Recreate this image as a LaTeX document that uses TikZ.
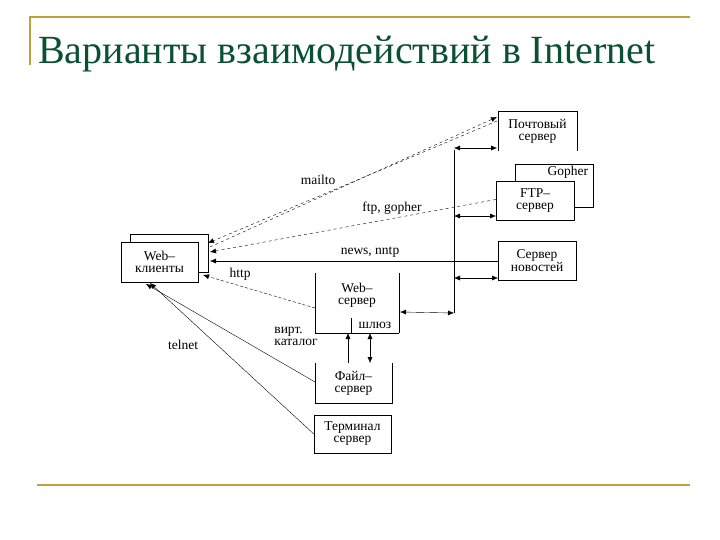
\documentclass[tikz,border=0pt]{standalone}
\usepackage{fontspec}
\setmainfont{Liberation Serif}
\usetikzlibrary{arrows.meta}
\definecolor{olive}{RGB}{190,160,60}
\definecolor{titlegreen}{RGB}{10,80,50}
\tikzset{
  box/.style={minimum width=78pt, minimum height=39pt, inner sep=0pt, align=center, font=\fontsize{13.5}{12}\selectfont},
  lbl/.style={font=\fontsize{13.5}{12}\selectfont, inner sep=1pt},
  flow/.style={-{Latex[length=6pt,width=5pt]}, thin},
  link/.style={{Latex[length=6pt,width=5pt]}-{Latex[length=6pt,width=5pt]}, thin}
}
\begin{document}
\begin{tikzpicture}[x=1pt,y=-1pt]
                  \useasboundingbox (0,0) rectangle (720,540);

                  % Title frame
                  \draw[olive, line width=1.2pt] (30,65) -- (30,17) -- (690,17);
                  \draw[olive, line width=1.2pt] (37,485) -- (690,485);
                  \node[anchor=base west, text=titlegreen, font=\fontsize{40}{40}\selectfont, inner sep=0pt] (title) at (38,64) {Варианты взаимодействий в Internet};

                  % Clients
                  \draw[fill=white] (130,234) rectangle (208,272);
                  \node[box, draw, fill=white, minimum width=77pt, minimum height=40pt] (client) at (159.5,262) {Web--\\клиенты};

                  % Servers
                  \node[box] (mail) at (537.5,131) {Почтовый\\сервер};
                  \draw (mail.south west) -- (mail.north west) -- (mail.north east) -- (mail.south east);
                  \node[box, draw, minimum height=43pt] (gopher) at (554,185.5) {};
                  \node[lbl, anchor=north east, xshift=-4pt, yshift=-1pt] (gophl) at (gopher.north east) {Gopher};
                  \node[box, draw, fill=white] (ftp) at (535,200.5) {FTP--\\сервер};
                  \node[box, draw] (news) at (537,261) {Сервер\\новостей};
                  \node[box, minimum width=84pt, minimum height=60pt] (web) at (357,303) {};
                  \node[box, align=center] (webl) at (357,295) {Web--\\сервер};
                  \draw (web.north west) -- (web.south west) -- (web.south east);
                  \draw[line width=1.3pt] (web.south east) -- (web.north east);
                  \draw (351,318) -- (351,333);
                  \node[lbl] (gate) at (375,325) {шлюз};
                  \node[box, minimum width=77pt, minimum height=40pt] (file) at (353.5,383) {Файл--\\сервер};
                  \draw (file.north west) -- (file.south west) -- (file.south east) -- (file.north east);
                  \node[box, draw, minimum width=77pt, minimum height=38pt] (term) at (352.5,434) {Терминал\\сервер};

                  % Bus
                  \coordinate (bt) at (454,150);
                  \coordinate (bb) at (454,313);
                  \draw (bt) -- (bb);
                  \draw[link] (454,148) -- (497,148);
                  \draw[link] (454,216) -- (496,216);
                  \draw[link] (454,278) -- (498,278);
                  \draw[link] (400,312) -- (bb);

                  % Protocols
                  \draw[flow, dashed] (497,121) -- (208,243);
                  \draw[flow, dashed] (210,247) -- (497,117);
                  \node[lbl] (mailto) at (318,180) {mailto};
                  \draw[flow, dashed] (ftp.west) ++(0,-1) -- (210,252);
                  \node[lbl] (ftpl) at (392,208) {ftp, gopher};
                  \draw[flow] (news.west) -- (210,261);
                  \node[lbl] (nntp) at (370,252) {news, nntp};
                  \draw[flow, densely dashed] (315,308) -- (203,275);
                  \node[lbl] (http) at (240,274) {http};
                  \draw[flow] (term.west) -- (150,283);
                  \draw[flow] (315,382) -- (146,284);
                  \node[lbl] (telnet) at (183,345) {telnet};
                  \node[lbl, align=left] (virt) at (296,336) {вирт.\\каталог};
                  \draw[flow] (348,363) -- (348,333);
                  \draw[link] (370,333) -- (370,363);

              \end{tikzpicture}
\end{document}
